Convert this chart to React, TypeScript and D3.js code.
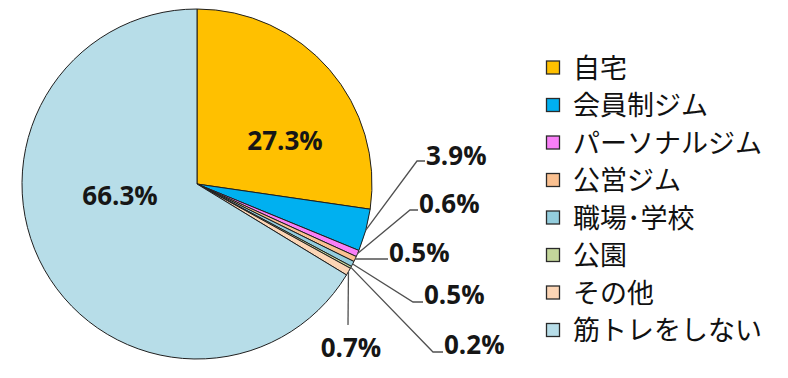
import React from "react";
import * as d3 from "d3";

const categories = ["自宅", "会員制ジム", "パーソナルジム", "公営ジム", "職場･学校", "公園", "その他", "筋トレをしない"];
const values = [27.3, 3.9, 0.6, 0.5, 0.5, 0.2, 0.7, 66.3];
const colors = ["#FFC000", "#00B0F0", "#F97FF7", "#FAC090", "#93CDDD", "#C3D69B", "#FCD5B5", "#B7DDE8"];

// label layout: text anchor point (x, baseline) and optional leader elbow
const labelLayout: { x: number; y: number; anchor: string; leader?: [number, number][] }[] = [
  { x: 285, y: 150, anchor: "middle" },
  { x: 426, y: 165, anchor: "start", leader: [[417, 161], [425, 161]] },
  { x: 419, y: 213, anchor: "start", leader: [[410, 210], [418, 210]] },
  { x: 389, y: 262, anchor: "start", leader: [[388, 259]] },
  { x: 424, y: 304, anchor: "start", leader: [[413, 302], [423, 302]] },
  { x: 444, y: 354, anchor: "start", leader: [[433, 352], [443, 352]] },
  { x: 351, y: 357, anchor: "middle", leader: [[348, 325]] },
  { x: 120, y: 205, anchor: "middle" },
];

const W = 788;
const H = 378;
const CX = 197;
const CY = 184;
const R = 175;

export default function App() {
  const pie = d3.pie<number>().sort(null).value((d) => d)(values);
  const arc = d3.arc<d3.PieArcDatum<number>>().innerRadius(0).outerRadius(R);
  const edge = (d: d3.PieArcDatum<number>): [number, number] => {
    const a = (d.startAngle + d.endAngle) / 2;
    return [CX + R * Math.sin(a), CY - R * Math.cos(a)];
  };
  const line = d3.line();
  const legendY = d3.scalePoint<string>().domain(categories).range([67.5, 330]);

  return (
    <svg width={W} height={H} style={{ position: "absolute", left: 0, top: 0, background: "#fff" }}>
      <g transform={`translate(${CX},${CY})`}>
        {pie.map((d, i) => (
          <path key={i} d={arc(d) || ""} fill={colors[i]} stroke="#1f1f1f" strokeWidth={1} strokeLinejoin="round" />
        ))}
      </g>
      {pie.map((d, i) => {
        const L = labelLayout[i];
        if (!L.leader) return null;
        const pts: [number, number][] = [edge(d), ...L.leader];
        return <path key={"l" + i} d={line(pts) || ""} fill="none" stroke="#505050" strokeWidth={1.3} />;
      })}
      {pie.map((d, i) => {
        const L = labelLayout[i];
        return (
          <text
            key={"t" + i}
            x={L.x}
            y={L.y}
            textAnchor={L.anchor as any}
            fontFamily="'Open Sans', 'Noto Sans', sans-serif"
            fontWeight="bold"
            fontSize={26}
            fill="#161616"
          >
            {`${values[i].toFixed(1)}%`}
          </text>
        );
      })}
      {categories.map((c, i) => {
        const y = legendY(c) as number;
        return (
          <g key={"lg" + i}>
            <rect x={546.5} y={y - 6.5} width={13} height={13} fill={colors[i]} stroke="#2a2a2a" strokeWidth={1.3} />
            <text x={573} y={y + 10} fontFamily="'Noto Sans CJK JP', sans-serif" fontSize={27} fill="#111">
              {c}
            </text>
          </g>
        );
      })}
    </svg>
  );
}
